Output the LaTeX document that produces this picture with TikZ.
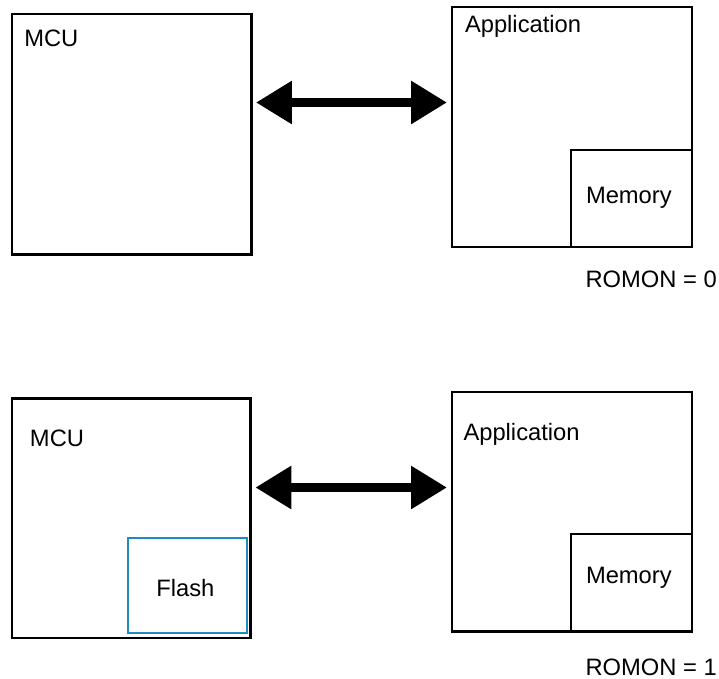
\documentclass[tikz,border=0pt]{standalone}
\usepackage{fontspec}
\setmainfont{Liberation Sans}
\usetikzlibrary{fit,arrows.meta}
\definecolor{flashblue}{RGB}{30,139,195}
\begin{document}
\begin{tikzpicture}[x=0.75pt,y=-0.75pt,
  box/.style={draw=black,line width=2.1pt,inner sep=0pt,outer sep=0pt,rectangle},
  subbox/.style={draw=black,line width=1pt,inner sep=0pt,outer sep=0pt,rectangle},
  flashbox/.style={draw=flashblue,line width=1.3pt,inner sep=0pt,outer sep=0pt,rectangle},
  lbl/.style={anchor=base west,inner sep=0pt,outer sep=0pt,font=\fontsize{17.8}{20}\selectfont},
  dblarrow/.style={line width=7pt,{Triangle[length=27pt,width=30.75pt]}-{Triangle[length=27pt,width=30.75pt]},shorten <=3.5pt,shorten >=3.75pt}]
\useasboundingbox (0,0) rectangle (719,679);
% top row
\node[box,fit={(12,14) (251.3,254.7)}] (mcuA) {};
\node[box,fit={(452,7) (692,247)}] (appA) {};
\node[subbox,fit={(571,150) (692,247)}] (memA) {};
\node[lbl] (tmcuA) at (24.3,46.7) {MCU};
\node[lbl] (tappA) at (465,32.3) {Application};
\node[lbl] (tmemA) at (586,203.3) {Memory};
\node[lbl] (romA) at (585.5,287.3) {ROMON = 0};
\coordinate (ya) at (0,102.5);
\draw[dblarrow] (mcuA.east |- ya) -- (appA.west |- ya);
% bottom row
\node[box,fit={(12,398.5) (250.7,638)}] (mcuB) {};
\node[flashbox,fit={(128.3,537.7) (246.7,633.3)}] (flash) {};
\node[box,fit={(452,392) (692,631.7)}] (appB) {};
\node[subbox,fit={(571,534) (692,631.7)}] (memB) {};
\node[lbl] (tmcuB) at (30,446) {MCU};
\node[lbl] (tflash) at (156.3,596) {Flash};
\node[lbl] (tappB) at (463.5,440) {Application};
\node[lbl] (tmemB) at (586,583.3) {Memory};
\node[lbl] (romB) at (585.5,675.8) {ROMON = 1};
\coordinate (yb) at (0,487.5);
\draw[dblarrow] (mcuB.east |- yb) -- (appB.west |- yb);
\end{tikzpicture}
\end{document}
